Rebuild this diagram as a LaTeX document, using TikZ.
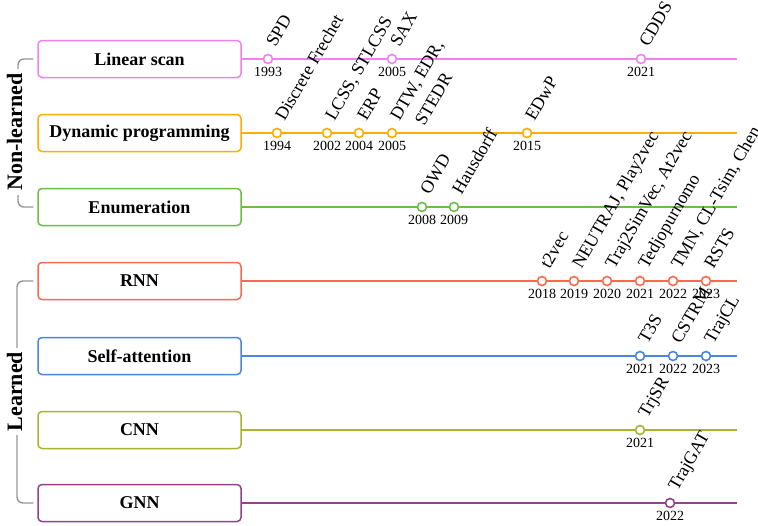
\documentclass[tikz,border=0pt]{standalone}
\usepackage{fontspec}
\setmainfont{Liberation Serif}
\usetikzlibrary{positioning,calc}
\definecolor{cLin}{RGB}{238,130,238}
\definecolor{cDyn}{RGB}{255,172,0}
\definecolor{cEnu}{RGB}{106,190,69}
\definecolor{cRnn}{RGB}{250,105,80}
\definecolor{cAtt}{RGB}{74,134,222}
\definecolor{cCnn}{RGB}{170,180,45}
\definecolor{cGnn}{RGB}{150,65,140}
\definecolor{cBrk}{RGB}{150,150,150}

\begin{document}
\begin{tikzpicture}[
  x=1pt, y=-1pt,
  catbox/.style={
    draw=#1, line width=1.5pt, rounded corners=4pt, fill=white,
    minimum width=203pt, minimum height=37pt,
    font=\fontsize{18}{20}\selectfont\bfseries
  },
  track/.style={draw=#1, line width=2pt},
  dot/.style={
    circle, draw=#1, fill=white, line width=1.6pt,
    minimum size=9pt, inner sep=0pt
  },
  yrlbl/.style={font=\fontsize{14}{16}\selectfont, inner sep=0pt},
  mlbl/.style={
    rotate=60, anchor=base west, inner sep=0pt,
    font=\fontsize{18}{20}\selectfont
  },
  brk/.style={draw=cBrk, line width=1.4pt, rounded corners=6pt},
  grp/.style={
    rotate=90, fill=white, inner sep=4pt,
    font=\fontsize{22}{24}\selectfont\bfseries
  }
]
\useasboundingbox (0,0) rectangle (758,525);

% Linear scan
\node[catbox=cLin] (lin) at (139.5,59) {Linear scan};
\coordinate (lin-end) at (737,59);
\draw[track=cLin] (lin.east) -- (lin-end);
\foreach \x/\yr/\lbl [count=\i] in {268/1993/SPD, 392/2005/SAX, 641/2021/CDDS} {
  \node[dot=cLin] (lin-\i) at (\x,59) {};
  \node[yrlbl, below=3pt of lin-\i] {\yr};
  \node[mlbl] at ([xshift=7.5pt,yshift=11pt]lin-\i.center) {\lbl};
}

% Dynamic programming
\node[catbox=cDyn] (dyn) at (139.5,133) {Dynamic programming};
\coordinate (dyn-end) at (737,133);
\draw[track=cDyn] (dyn.east) -- (dyn-end);
\foreach \x/\yr/\lbl [count=\i] in {277/1994/Discrete Frechet, 327/2002/{LCSS, STLCSS},
    359/2004/ERP, 392/2005/{\begin{tabular}[t]{@{}l@{}}DTW, EDR,\\[4pt]\hspace*{8pt}STEDR\end{tabular}},
    527/2015/EDwP} {
  \node[dot=cDyn] (dyn-\i) at (\x,133) {};
  \node[yrlbl, below=3pt of dyn-\i] {\yr};
  \node[mlbl] at ([xshift=7.5pt,yshift=11pt]dyn-\i.center) {\lbl};
}

% Enumeration
\node[catbox=cEnu] (enu) at (139.5,207) {Enumeration};
\coordinate (enu-end) at (737,207);
\draw[track=cEnu] (enu.east) -- (enu-end);
\foreach \x/\yr/\lbl [count=\i] in {422/2008/OWD, 454/2009/Hausdorff} {
  \node[dot=cEnu] (enu-\i) at (\x,207) {};
  \node[yrlbl, below=3pt of enu-\i] {\yr};
  \node[mlbl] at ([xshift=7.5pt,yshift=11pt]enu-\i.center) {\lbl};
}

% RNN
\node[catbox=cRnn] (rnn) at (139.5,281) {RNN};
\coordinate (rnn-end) at (737,281);
\draw[track=cRnn] (rnn.east) -- (rnn-end);
\foreach \x/\yr/\lbl [count=\i] in {542/2018/t2vec, 574/2019/{NEUTRAJ, Play2vec},
    607/2020/{Traj2SimVec, At2vec}, 640/2021/Tedjopurnomo,
    673/2022/{TMN, CL-Tsim, Chen}, 706/2023/RSTS} {
  \node[dot=cRnn] (rnn-\i) at (\x,281) {};
  \node[yrlbl, below=3pt of rnn-\i] {\yr};
  \node[mlbl] at ([xshift=7.5pt,yshift=11pt]rnn-\i.center) {\lbl};
}

% Self-attention
\node[catbox=cAtt] (att) at (139.5,356) {Self-attention};
\coordinate (att-end) at (737,356);
\draw[track=cAtt] (att.east) -- (att-end);
\foreach \x/\yr/\lbl [count=\i] in {640/2021/T3S, 673/2022/CSTRM, 706/2023/TrajCL} {
  \node[dot=cAtt] (att-\i) at (\x,356) {};
  \node[yrlbl, below=3pt of att-\i] {\yr};
  \node[mlbl] at ([xshift=7.5pt,yshift=11pt]att-\i.center) {\lbl};
}

% CNN
\node[catbox=cCnn] (cnn) at (139.5,430) {CNN};
\coordinate (cnn-end) at (737,430);
\draw[track=cCnn] (cnn.east) -- (cnn-end);
\node[dot=cCnn] (cnn-1) at (640,430) {};
\node[yrlbl, below=3pt of cnn-1] {2021};
\node[mlbl] at ([xshift=7.5pt,yshift=11pt]cnn-1.center) {TrjSR};

% GNN
\node[catbox=cGnn] (gnn) at (139.5,503) {GNN};
\coordinate (gnn-end) at (737,503);
\draw[track=cGnn] (gnn.east) -- (gnn-end);
\node[dot=cGnn] (gnn-1) at (670,503) {};
\node[yrlbl, below=3pt of gnn-1] {2022};
\node[mlbl] at ([xshift=7.5pt,yshift=11pt]gnn-1.center) {TrajGAT};

% Groups
\coordinate (nl-bar) at (18,132);
\draw[brk] ([xshift=-4pt]lin.west) -| (nl-bar) |- ([xshift=-4pt]enu.west);
\node[grp] (nl) at (14.5,132) {Non-learned};
\coordinate (ln-bar) at (17,391.5);
\draw[brk] ([xshift=-4pt]rnn.west) -| (ln-bar) |- ([xshift=-4pt]gnn.west);
\node[grp] (ln) at (14.5,391.5) {Learned};

\end{tikzpicture}
\end{document}
